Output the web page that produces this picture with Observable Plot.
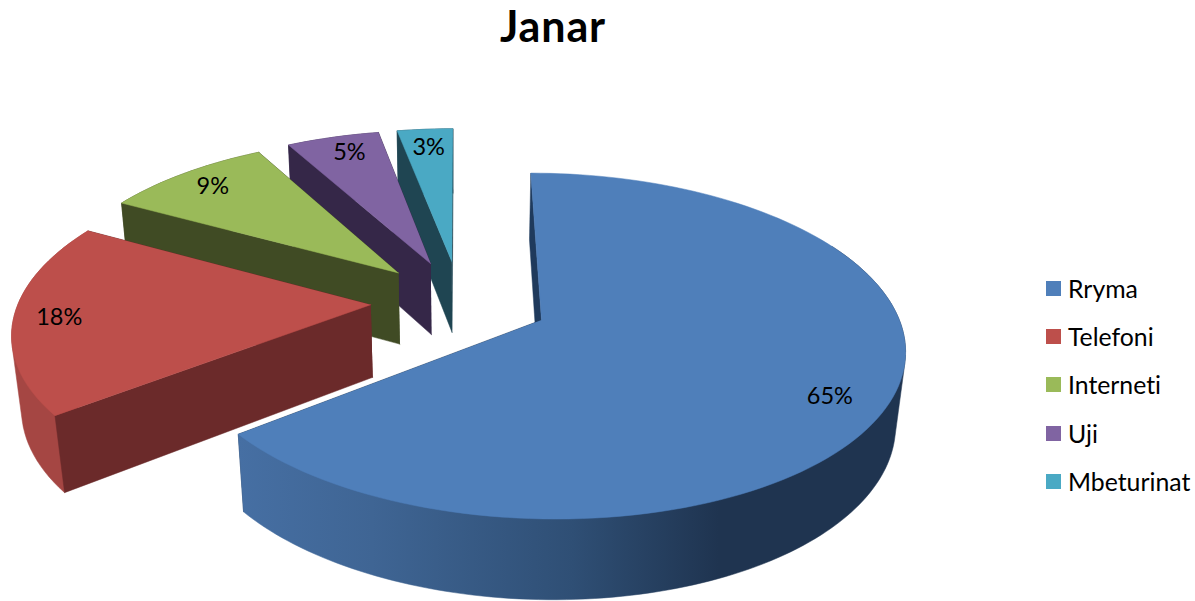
<!DOCTYPE html>
<html><head><meta charset="utf-8">
<script src="https://cdn.jsdelivr.net/npm/d3@7"></script>
<script src="https://cdn.jsdelivr.net/npm/@observablehq/plot@0.6"></script>
<style>
html,body{margin:0;padding:0;background:#fff;overflow:hidden}
#wrap{position:relative;width:1195px;height:601px;font-family:Lato,sans-serif;color:#000;font-variant-ligatures:none}
#wrap h1{position:absolute;left:0;top:0;width:1106px;margin:0;text-align:center;font-size:43px;line-height:52px;letter-spacing:0.9px;font-weight:700}
#legend{position:absolute;left:1046px;top:264px;list-style:none;margin:0;padding:0}
#legend li{display:flex;align-items:center;height:48.3px;font-size:24.8px;white-space:nowrap}
#legend i{display:block;width:15px;height:15px;margin-right:7px}
svg{position:absolute;left:0;top:0}
</style></head><body><div id="wrap"></div>
<script>
const names = ["Rryma","Telefoni","Interneti","Uji","Mbeturinat"];
const shares = [64.5,18.5,9.0,5.0,3.0];
const labels = ["65%","18%","9%","5%","3%"];
const topColors = ["#4f7fba","#bd4f4b","#9aba59","#8064a2","#4aa9c4"];
const sideColors = ["#1f3a5c","#6b2a2a","#404b24","#352748","#1f4552"];
const rimColors = ["url(#blueRim)","#a54643","#404b24","#352748","#1f4552"];
const labelRadius = [0.853,0.873,0.855,0.86,0.845];
const labelTurn = [3.8,-0.5,0,1,0];

// perspective of the tilted pie (unit radius, z = 1 at the underside)
const view = {cx:459.5, cy:301, A:352, C:163.5, k:0.148, m:0.022, E:74, explode:0.2535};
const project = (u,v,z=0) => {
  const w = 1 - view.k*v + view.m*z;
  return {x: view.cx + view.A*u/w, y: view.cy + (view.C*v + view.E*z)/w};
};
const total = d3.sum(shares);
const ends = d3.cumsum(shares);
const slices = shares.map((s,i) => {
  const a0 = (ends[i]-s)/total*2*Math.PI, a1 = ends[i]/total*2*Math.PI, b = (a0+a1)/2;
  const ou = view.explode*Math.sin(b), ov = -view.explode*Math.cos(b);
  const at = (a,z,r=1) => project(ou+r*Math.sin(a), ov-r*Math.cos(a), z);
  const steps = Math.ceil(s*2);
  const arc = (z,from=a0) => d3.range(0,steps+1).map(t => at(from+(a1-from)*t/steps, z));
  // the rim is the hull of its front arc at both levels, which fills the straight silhouette
  const from = Math.max(a0, a1 - 170*Math.PI/180);
  const hull = d3.polygonHull([...arc(0,from), ...arc(1,from)].map(p => [p.x,p.y])).map(([x,y]) => ({x,y}));
  return {
    i,
    top: [project(ou,ov,0), ...arc(0)],
    rim: hull,
    side0: [project(ou,ov,0), at(a0,0), at(a0,1), project(ou,ov,1)],
    side1: [project(ou,ov,0), at(a1,0), at(a1,1), project(ou,ov,1)],
    label: {...at(b+labelTurn[i]*Math.PI/180,0,labelRadius[i]), text: labels[i]}
  };
});
const face = (pts,color) => Plot.line(pts,{x:"x",y:"y",fill:color,stroke:color,strokeWidth:0.5,curve:"linear"});

const defs = () => {
  const d = d3.create("svg:defs");
  const g = d.append("linearGradient").attr("id","blueRim").attr("gradientUnits","userSpaceOnUse")
    .attr("x1",238).attr("x2",905).attr("y1",0).attr("y2",0);
  [[0,"#466fa3"],[0.2,"#3f6594"],[0.5,"#2f4f75"],[0.72,"#1f3450"],[1,"#1f3450"]]
    .forEach(([o,c]) => g.append("stop").attr("offset",o).attr("stop-color",c));
  return d.node();
};

const marks = [defs];
for (const s of [...slices].reverse()) {
  marks.push(face(s.side1,sideColors[s.i]), face(s.rim,rimColors[s.i]),
             face(s.side0,sideColors[s.i]), face(s.top,topColors[s.i]));
}
marks.push(Plot.text(slices.map(s=>s.label),{x:"x",y:"y",text:"text",fontSize:23.5,fontFamily:"Lato, sans-serif",fill:"#000"}));

const chart = Plot.plot({
  width:1195,height:601,margin:0,
  x:{domain:[0,1195],axis:null},
  y:{domain:[0,601],reverse:true,axis:null},
  style:{background:"transparent"},
  marks
});
const wrap = document.getElementById("wrap");
wrap.append(chart);
const h = document.createElement("h1"); h.textContent = "Janar"; wrap.append(h);
const ul = document.createElement("ul"); ul.id = "legend";
names.forEach((n,i)=>{
  const li = document.createElement("li");
  const sw = document.createElement("i"); sw.style.background = topColors[i];
  li.append(sw, n); ul.append(li);
});
wrap.append(ul);
</script></body></html>
